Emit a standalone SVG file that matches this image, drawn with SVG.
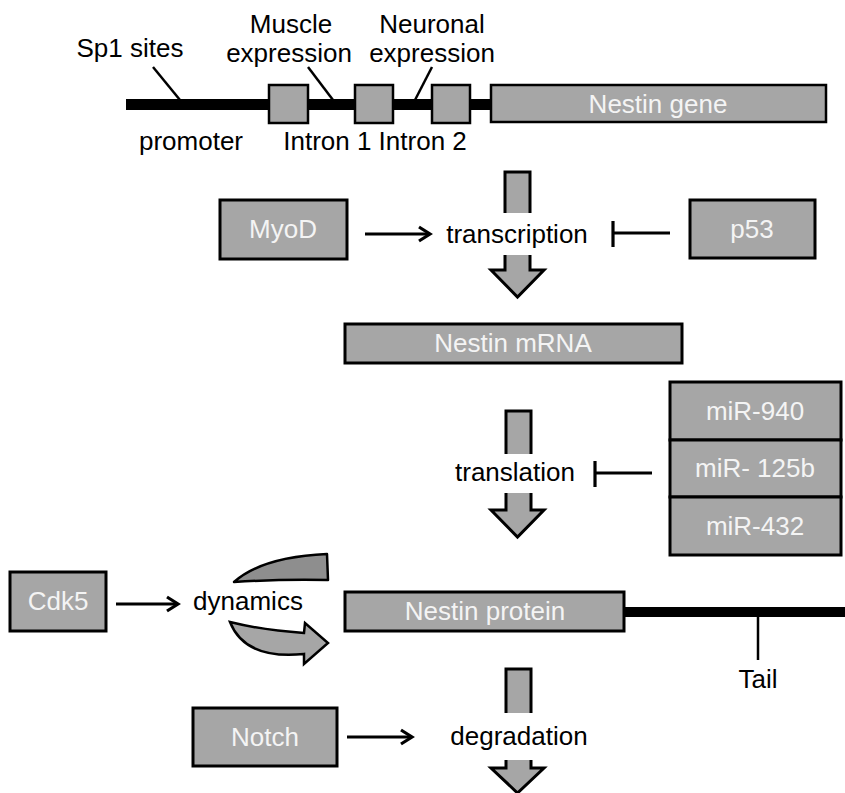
<svg xmlns="http://www.w3.org/2000/svg" width="845" height="793" viewBox="0 0 845 793">
<defs>
<style>
text{font-family:"Liberation Sans",Arial,sans-serif;font-size:26px;text-anchor:middle;fill:#000}
.lbl{fill:#f4f4f4}
.box{fill:#a6a6a6;stroke:#000;stroke-width:3}
.gbox{fill:#a6a6a6;stroke:#000;stroke-width:2.5}
.blk{fill:#a6a6a6;stroke:#000;stroke-width:3;stroke-linejoin:miter}
.ln{stroke:#000;stroke-width:3.2;fill:none}
.thin{stroke:#000;stroke-width:2.5;fill:none}
.wh{fill:#fff;stroke:none}
</style>
<marker id="ah" viewBox="0 0 16 18" markerWidth="16" markerHeight="18" refX="13" refY="9" orient="auto" markerUnits="userSpaceOnUse">
<path d="M2,2 L13,9 L2,16" fill="none" stroke="#000" stroke-width="3.2"/>
</marker>
</defs>
<rect width="845" height="793" fill="#fff"/>

<g id="gene">
<rect x="126" y="99" width="366" height="11" fill="#000"/>
<line class="thin" x1="153" y1="67" x2="180" y2="100"/>
<line class="thin" x1="308" y1="67" x2="333" y2="100"/>
<line class="thin" x1="432" y1="67" x2="415" y2="100"/>
<rect class="gbox" x="269" y="85" width="39" height="38"/>
<rect class="gbox" x="355" y="85" width="38" height="38"/>
<rect class="gbox" x="432" y="85" width="38" height="38"/>
<rect class="gbox" x="491" y="85" width="335" height="37"/>
<text class="lbl" x="658" y="113">Nestin gene</text>
<text x="130" y="57">Sp1 sites</text>
<text x="291" y="33">Muscle</text>
<text x="289" y="62">expression</text>
<text x="432" y="33">Neuronal</text>
<text x="432" y="62">expression</text>
<text x="191" y="150">promoter</text>
<text x="375" y="150">Intron 1 Intron 2</text>
</g>

<g id="transcription-arrow">
<polygon class="blk" points="505,172 530,172 530,270 544,270 517.5,297 491,270 505,270"/>
<rect class="wh" x="498" y="213" width="40" height="42"/>
<text x="517" y="243">transcription</text>
</g>

<g id="myod">
<rect class="box" x="220" y="200" width="127" height="59"/>
<text class="lbl" x="283" y="238">MyoD</text>
</g>

<g id="p53">
<rect class="box" x="690" y="200" width="125" height="58"/>
<text class="lbl" x="752" y="238">p53</text>
</g>

<g id="mrna">
<rect class="box" x="345" y="324" width="337" height="39"/>
<text class="lbl" x="513" y="352">Nestin mRNA</text>
</g>

<g id="translation-arrow">
<polygon class="blk" points="506,411 531,411 531,510 544,510 517.5,537 491,510 506,510"/>
<rect class="wh" x="498" y="454" width="40" height="39"/>
<text x="515" y="481">translation</text>
</g>

<g id="mirs">
<rect class="box" x="670" y="382" width="171" height="58"/>
<text class="lbl" x="755" y="420">miR-940</text>
<rect class="box" x="670" y="440" width="171" height="57"/>
<text class="lbl" x="755" y="477">miR- 125b</text>
<rect class="box" x="670" y="497" width="171" height="58"/>
<text class="lbl" x="755" y="535">miR-432</text>
</g>

<g id="cdk5">
<rect class="box" x="10" y="572" width="96" height="59"/>
<text class="lbl" x="58" y="610">Cdk5</text>
</g>

<g id="dynamics">
<path d="M234,582 Q262,557 327,554 L328,580 Q280,579 234,582 Z" fill="#8e8e8e" stroke="#000" stroke-width="2.5" stroke-linejoin="round"/>
<path d="M230,622 Q262,630 304,633 L305,623 L328,643 L304,664 L304,654 Q245,660 230,622 Z" fill="#a6a6a6" stroke="#000" stroke-width="2.5" stroke-linejoin="miter"/>
<text x="248" y="610">dynamics</text>
</g>

<g id="protein">
<rect x="624" y="607" width="221" height="10" fill="#000"/>
<line class="thin" x1="758" y1="616" x2="758" y2="660"/>
<text x="758" y="688">Tail</text>
<rect class="box" x="345" y="592" width="279" height="39"/>
<text class="lbl" x="485" y="620">Nestin protein</text>
</g>

<g id="degradation-arrow">
<polygon class="blk" points="506,669 531,669 531,768 544,768 517.5,793 491,768 506,768"/>
<rect class="wh" x="498" y="713" width="40" height="47"/>
<text x="519" y="745">degradation</text>
</g>

<g id="notch">
<rect class="box" x="193" y="708" width="144" height="58"/>
<text class="lbl" x="265" y="746">Notch</text>
</g>

<g id="connectors">
<line class="ln" x1="365" y1="234" x2="430" y2="234" marker-end="url(#ah)"/>
<line class="ln" x1="670" y1="233" x2="613" y2="233"/>
<line class="ln" x1="613" y1="221" x2="613" y2="247"/>
<line class="ln" x1="652" y1="473" x2="595" y2="473"/>
<line class="ln" x1="595" y1="461" x2="595" y2="487"/>
<line class="ln" x1="116" y1="604" x2="178" y2="604" marker-end="url(#ah)"/>
<line class="ln" x1="347" y1="737" x2="412" y2="737" marker-end="url(#ah)"/>
</g>
</svg>
